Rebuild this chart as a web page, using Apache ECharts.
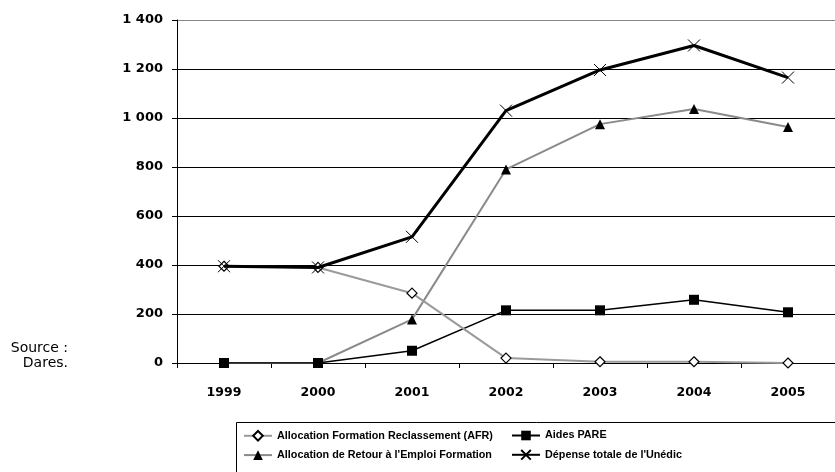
<!DOCTYPE html>
<html>
<head>
<meta charset="utf-8">
<script src="https://cdn.jsdelivr.net/npm/echarts@6/dist/echarts.min.js"></script>
<style>
  html, body { margin: 0; padding: 0; background: #fff; }
  #chart { width: 835px; height: 472px; }
</style>
</head>
<body>
<div id="chart"></div>
<script>
// Years on the x axis
const years = ['1999', '2000', '2001', '2002', '2003', '2004', '2005'];

// Series values (millions d'euros)
const afr = [395, 390, 285, 20, 5, 5, 0];
const pare = [0, 0, 50, 215, 215, 258, 207];
const aref = [0, 0, 178, 790, 975, 1037, 963];
const totalUnedic = [395, 390, 515, 1030, 1196, 1296, 1165];

// Series names
const nameAfr = 'Allocation Formation Reclassement (AFR)';
const namePare = 'Aides PARE';
const nameAref = "Allocation de Retour à l'Emploi Formation";
const nameTotal = "Dépense totale de l'Unédic";

const AXIS_FONT = '"DejaVu Sans", Verdana, sans-serif';
const LEGEND_FONT = '"Liberation Sans", Arial, sans-serif';

function thousands(v) {
  return String(v).replace(/\B(?=(\d{3})+(?!\d))/g, ' ');
}

const chart = echarts.init(document.getElementById('chart'));

const legendText = { color: '#000', fontFamily: LEGEND_FONT, fontWeight: 'bold', fontSize: 10.8 };

chart.setOption({
  animation: false,
  backgroundColor: '#fff',
  grid: { left: 177, top: 20, width: 663, bottom: 109 },
  xAxis: {
    type: 'category',
    data: years,
    boundaryGap: true,
    axisLine: { lineStyle: { color: '#000', width: 1 } },
    axisTick: { show: true, length: 5, inside: false, lineStyle: { color: '#000' } },
    axisLabel: { color: '#000', fontFamily: AXIS_FONT, fontWeight: 'bold', fontSize: 12.5, margin: 23 },
    splitLine: { show: false }
  },
  yAxis: {
    type: 'value',
    min: 0,
    max: 1400,
    interval: 200,
    axisLine: { show: true, lineStyle: { color: '#000', width: 1 } },
    axisTick: { show: true, length: 5, lineStyle: { color: '#000' } },
    axisLabel: {
      color: '#000', fontFamily: AXIS_FONT, fontWeight: 'bold', fontSize: 13, margin: 14,
      formatter: thousands
    },
    splitLine: {
      show: true,
      lineStyle: { color: ['#000', '#000', '#000', '#000', '#000', '#000', '#000', '#888'], width: 1 }
    }
  },
  legend: [
    {
      data: [nameAfr, nameAref],
      orient: 'vertical',
      left: 238,
      top: 425,
      itemWidth: 28,
      itemHeight: 12,
      itemGap: 8,
      textStyle: legendText,
      selectedMode: false
    },
    {
      data: [namePare, nameTotal],
      orient: 'vertical',
      left: 506,
      top: 425,
      itemWidth: 28,
      itemHeight: 12,
      itemGap: 8,
      textStyle: legendText,
      selectedMode: false
    }
  ],
  graphic: [
    {
      type: 'rect',
      left: 234,
      top: 420,
      shape: { width: 620, height: 70 },
      style: { fill: 'none', stroke: '#000', lineWidth: 1 },
      silent: true
    },
    {
      type: 'text',
      x: 68,
      y: 341,
      style: {
        text: 'Source :\nDares.',
        align: 'right',
        fill: '#000',
        font: '14px ' + AXIS_FONT,
        lineHeight: 15
      },
      silent: true
    }
  ],
  series: [
    {
      name: nameAref,
      type: 'line',
      data: aref,
      symbol: 'triangle',
      symbolSize: 10,
      lineStyle: { color: '#8a8a8a', width: 2 },
      itemStyle: { color: '#000' },
      z: 2
    },
    {
      name: namePare,
      type: 'line',
      data: pare,
      symbol: 'rect',
      symbolSize: 10,
      lineStyle: { color: '#000', width: 1.5 },
      itemStyle: { color: '#000' },
      z: 3
    },
    {
      name: nameAfr,
      type: 'line',
      data: afr,
      symbol: 'diamond',
      symbolSize: 10,
      lineStyle: { color: '#9a9a9a', width: 2 },
      itemStyle: { color: '#fff', borderColor: '#000', borderWidth: 1.2 },
      z: 4
    },
    {
      name: nameTotal,
      type: 'line',
      data: totalUnedic,
      symbol: 'path://M0,0L10,10M10,0L0,10',
      symbolSize: 12,
      lineStyle: { color: '#000', width: 3 },
      itemStyle: { color: '#000', borderColor: '#000', borderWidth: 1 },
      z: 5
    }
  ]
});
</script>
</body>
</html>
